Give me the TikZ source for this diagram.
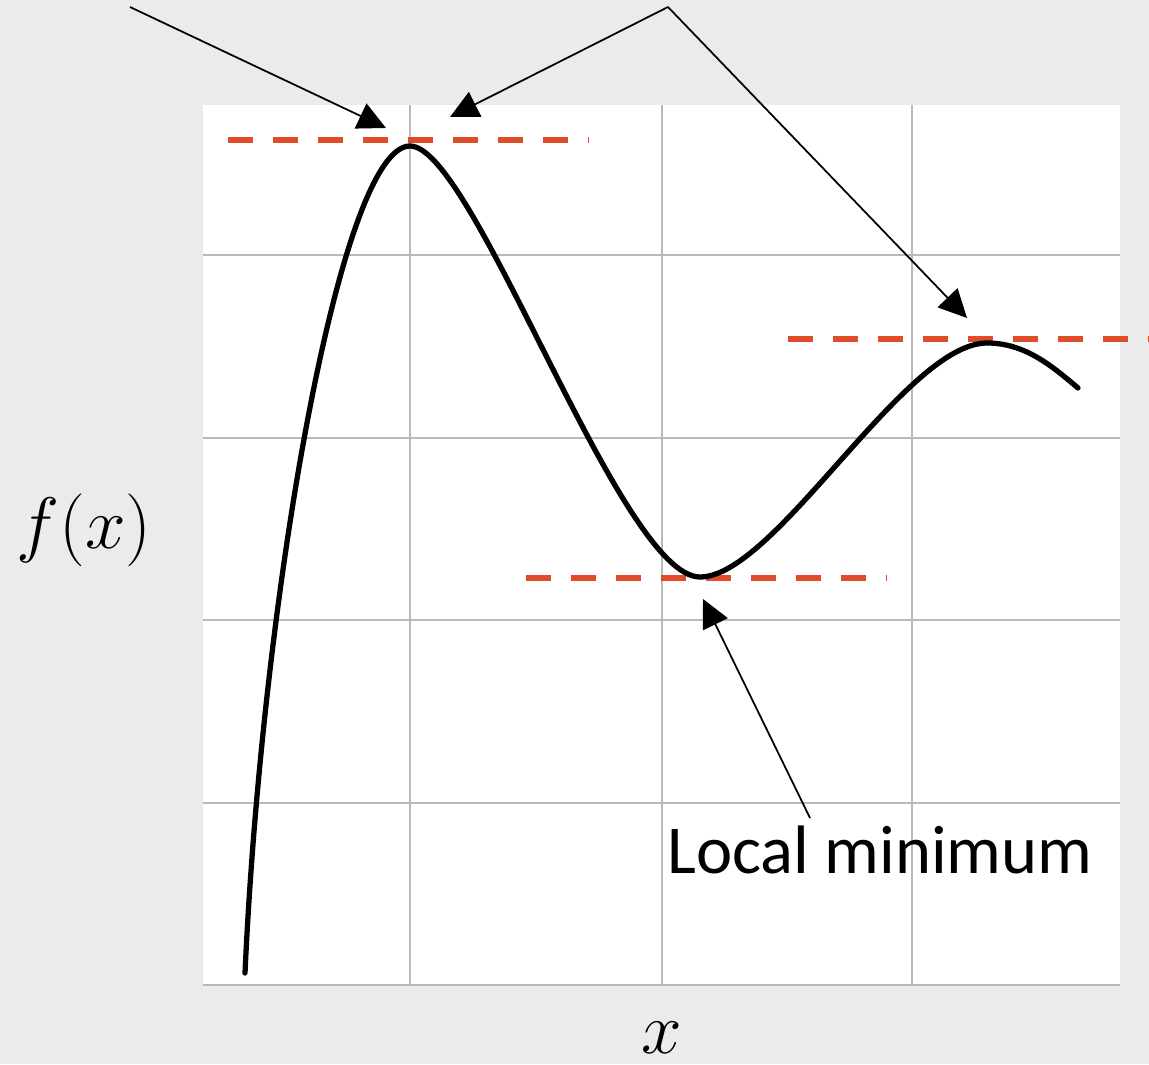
\documentclass[tikz,border=0pt]{standalone}
\usepackage{fontspec}
\setmainfont{Carlito}
\usetikzlibrary{arrows.meta}
\definecolor{bggray}{RGB}{235,235,235}
\definecolor{gridgray}{RGB}{185,185,185}
\definecolor{tangred}{RGB}{224,76,42}
\tikzset{
  gridline/.style={gridgray,line width=0.5pt},
  tangent/.style={tangred,line width=1.9pt,dash pattern=on 7.1pt off 5.7pt},
  fcurve/.style={black,line width=1.5pt,line cap=round},
  pointer/.style={-{Triangle[length=8pt,width=7.8pt]},line width=0.5pt},
  bigtext/.style={font=\fontsize{19.5}{23}\selectfont,inner sep=0pt}
}
\begin{document}
\begin{tikzpicture}[x=0.01cm,y=-0.01cm]
\fill[bggray] (0,0) rectangle (1149,1064);
\useasboundingbox (0,0) rectangle (1149,1064);
\fill[white] (203,105) rectangle (1120,985);

\foreach \gx in {410,662,912}
  \draw[gridline] (\gx,105) -- (\gx,985);
\foreach \gy in {255,438,620,803,985}
  \draw[gridline] (203,\gy) -- (1120,\gy);

% tangents at the stationary points
\draw[tangent] (228,140) -- (589,140);
\draw[tangent] (788,339) -- (1149,339);
\draw[tangent] (526,578) -- (887,578);

\coordinate (start) at (245,973);
\coordinate (peakA) at (410,146);
\coordinate (valley) at (700,577);
\coordinate (peakB) at (987,343);
\coordinate (stop) at (1078,388);

\draw[fcurve] (start) .. controls (262,600) and (340,146) .. (peakA)
  .. controls (474,146) and (620,577) .. (valley)
  .. controls (775,577) and (905,343) .. (peakB)
  .. controls (1025,343) and (1052,366) .. (stop);

\node[bigtext,anchor=base] (fx) at (84,548) {$f(x)$};
\node[bigtext,anchor=base] (xlab) at (662,1053) {$x$};
\node[bigtext,anchor=base] (minlabel) at (880,873) {Local minimum};

\coordinate (maxsrc) at (130,7);
\coordinate (maxtip) at (386,128);
\coordinate (apex) at (668,7);
\coordinate (apextipA) at (450,117);
\coordinate (apextipB) at (967,318);
\coordinate (minsrc) at (810,818);
\coordinate (mintip) at (703,599);

\draw[pointer] (maxsrc) -- (maxtip);
\draw[pointer] (apex) -- (apextipA);
\draw[pointer] (apex) -- (apextipB);
\draw[pointer] (minsrc) -- (mintip);
\end{tikzpicture}
\end{document}
